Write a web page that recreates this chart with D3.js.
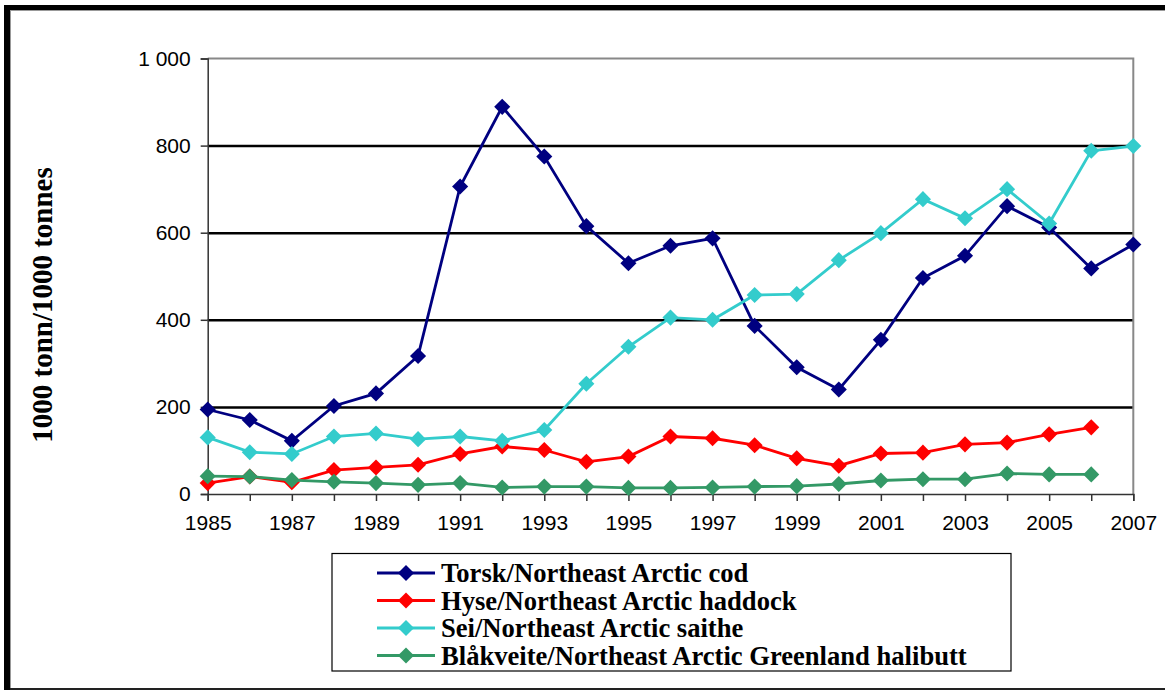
<!DOCTYPE html>
<html>
<head>
<meta charset="utf-8">
<script src="https://cdn.jsdelivr.net/npm/d3@7/dist/d3.min.js"></script>
<style>
  body { margin: 0; background: #fff; }
  svg { display: block; }
  .tick text { font-family: "Liberation Sans", Arial, sans-serif; font-size: 21px; fill: #000; }
  .legend text, .ylabel { font-family: "Liberation Serif", "Times New Roman", serif; font-weight: bold; fill: #000; }
</style>
</head>
<body>
<div id="chart"></div>
<script>
// Years on the x axis
var years = d3.range(1985, 2008);

// 1000 tonnes
var cod = [194, 170, 122, 202, 231, 317, 706, 889, 775, 615, 530, 570, 587, 386, 291, 240, 354, 496, 547, 661, 612, 518, 573];
var haddock = [25, 40, 27, 55, 61, 67, 92, 109, 101, 74, 86, 132, 128, 112, 82, 65, 93, 95, 114, 118, 137, 153, null];
var saithe = [130, 96, 92, 132, 139, 126, 132, 122, 147, 253, 338, 405, 400, 457, 459, 537, 599, 677, 633, 700, 621, 788, 799];
var halibut = [41, 40, 32, 28, 25, 21, 25, 15, 17, 17, 14, 14, 15, 17, 18, 23, 31, 34, 34, 47, 45, 45, null];

var seriesNames = [
  "Torsk/Northeast Arctic cod",
  "Hyse/Northeast Arctic haddock",
  "Sei/Northeast Arctic saithe",
  "Blåkveite/Northeast Arctic Greenland halibutt"
];
var seriesColors = ["#000080", "#ff0000", "#33cccc", "#339966"];
var yTicks = [0, 200, 400, 600, 800, 1000];
var xLabelYears = d3.range(1985, 2008, 2);

var width = 1165, height = 690;
var margins = { top: 58.5, right: 31.7, bottom: 196, left: 207.7 };
var chartWidth = width - margins.left - margins.right;
var chartHeight = height - margins.top - margins.bottom;

var series = [cod, haddock, saithe, halibut].map(function (vals, i) {
  return { name: seriesNames[i], color: seriesColors[i], values: vals };
});

var svg = d3.select("#chart").append("svg")
  .attr("width", width)
  .attr("height", height);

// Outer frame
svg.append("rect").attr("x", 4).attr("y", 5).attr("width", width - 4).attr("height", 5).attr("fill", "#000");
svg.append("rect").attr("x", 4).attr("y", 5).attr("width", 6).attr("height", height - 5).attr("fill", "#000");
svg.append("line").attr("x1", 10).attr("x2", width).attr("y1", 10.5).attr("y2", 10.5).attr("stroke", "#999").attr("stroke-width", 1);
svg.append("line").attr("x1", 10.5).attr("x2", 10.5).attr("y1", 10).attr("y2", height).attr("stroke", "#999").attr("stroke-width", 1);
svg.append("line").attr("x1", 10).attr("x2", width).attr("y1", 689).attr("y2", 689).attr("stroke", "#222").attr("stroke-width", 2);

var xScale = d3.scaleLinear().domain([1985, 2007]).range([0, chartWidth]);
var yScale = d3.scaleLinear().domain([0, 1000]).range([chartHeight, 0]);

var chartElement = svg.append("g")
  .attr("transform", "translate(" + margins.left + "," + margins.top + ")");

// Grid lines
chartElement.append("g")
  .attr("class", "y grid")
  .call(d3.axisLeft(yScale).tickValues(yTicks.filter(function (d) { return d > 0 && d < 1000; })).tickSize(-chartWidth).tickFormat(""))
  .call(function (g) {
    g.select(".domain").remove();
    g.selectAll("line").attr("stroke", "#000").attr("stroke-width", 2.5);
  });

// Plot border (top and right)
chartElement.append("path")
  .attr("d", "M0,0H" + chartWidth + "V" + chartHeight)
  .attr("fill", "none")
  .attr("stroke", "#888")
  .attr("stroke-width", 2);

// Y axis
chartElement.append("g")
  .attr("class", "y axis")
  .call(d3.axisLeft(yScale).tickValues(yTicks).tickSize(7).tickPadding(10)
    .tickFormat(function (d) { return d3.format(",")(d).replace(",", " "); }))
  .call(function (g) {
    g.select(".domain").attr("stroke", "#333").attr("stroke-width", 1.5);
    g.selectAll("line").attr("stroke", "#333").attr("stroke-width", 1.5);
  });

// X axis
chartElement.append("g")
  .attr("class", "x axis")
  .attr("transform", "translate(0," + chartHeight + ")")
  .call(d3.axisBottom(xScale).tickValues(years).tickSize(7).tickPadding(14)
    .tickFormat(function (d) { return xLabelYears.indexOf(d) >= 0 ? d : ""; }))
  .call(function (g) {
    g.select(".domain").attr("stroke", "#333").attr("stroke-width", 1.5);
    g.selectAll("line").attr("stroke", "#333").attr("stroke-width", 1.5);
  });

// Lines and markers
var line = d3.line()
  .defined(function (d) { return d != null; })
  .x(function (d, i) { return xScale(years[i]); })
  .y(function (d) { return yScale(d); });

var diamond = d3.symbol().type(d3.symbolDiamond2).size(165);

series.forEach(function (s) {
  var g = chartElement.append("g").attr("class", "series");
  g.append("path")
    .attr("d", line(s.values))
    .attr("fill", "none")
    .attr("stroke", s.color)
    .attr("stroke-width", 2.8);

  g.selectAll("path.marker")
    .data(s.values.map(function (v, i) { return { year: years[i], value: v }; }).filter(function (d) { return d.value != null; }))
    .enter()
    .append("path")
    .attr("class", "marker")
    .attr("d", diamond)
    .attr("transform", function (d) { return "translate(" + xScale(d.year) + "," + yScale(d.value) + ")"; })
    .attr("fill", s.color);
});

// Y label
svg.append("text")
  .attr("class", "ylabel")
  .attr("transform", "translate(52,305) rotate(-90)")
  .attr("text-anchor", "middle")
  .style("font-size", "29px")
  .text("1000 tonn/1000 tonnes");

// Legend
var legendG = svg.append("g").attr("class", "legend");
legendG.append("rect")
  .attr("x", 332).attr("y", 553.5)
  .attr("width", 679).attr("height", 117.5)
  .attr("fill", "#fff")
  .attr("stroke", "#000")
  .attr("stroke-width", 1.2);

var legendItems = legendG.selectAll("g.item")
  .data(series)
  .enter()
  .append("g")
  .attr("class", "item")
  .attr("transform", function (d, i) { return "translate(0," + (573 + i * 27.5) + ")"; });

legendItems.append("line")
  .attr("x1", 377).attr("x2", 435)
  .attr("stroke", function (d) { return d.color; })
  .attr("stroke-width", 2.8);
legendItems.append("path")
  .attr("d", diamond)
  .attr("transform", "translate(406,0)")
  .attr("fill", function (d) { return d.color; });
legendItems.append("text")
  .attr("x", 441)
  .attr("dy", "0.35em")
  .style("font-size", "26.6px")
  .text(function (d) { return d.name; });
</script>
</body>
</html>
